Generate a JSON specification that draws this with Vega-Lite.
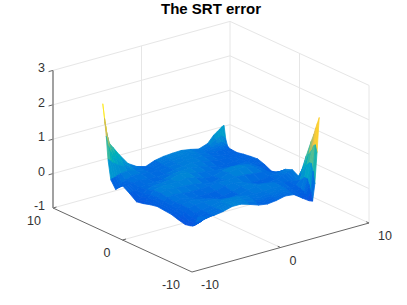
{"$schema":"https://vega.github.io/schema/vega-lite/v6.json","width":407,"height":305,"padding":0,"autosize":{"type":"none"},"background":"white","config":{"view":{"stroke":null}},
"title":{"text":"The SRT error","anchor":"middle","dx":7.5,"offset":-17,"font":"Liberation Sans","fontSize":15,"fontWeight":"bold","color":"#000000"},
"datasets":{"grid":[
{"k":2020,"x":6.85,"y":6.85,"z":0.5},{"k":2019,"x":6.85,"y":6.6,"z":0.12},{"k":2018,"x":6.85,"y":6.35,"z":-0.05},{"k":2017,"x":6.85,"y":6.1,"z":-0.1},{"k":2016,"x":6.85,"y":5.7,"z":-0.11},{"k":2015,"x":6.85,"y":5,"z":-0.12},{"k":2014,"x":6.85,"y":4,"z":-0.08},{"k":2013,"x":6.85,"y":3,"z":-0.05},{"k":2012,"x":6.85,"y":2,"z":-0.03},{"k":2011,"x":6.85,"y":1,"z":-0.1},{"k":2010,"x":6.85,"y":0,"z":-0.2},{"k":2009,"x":6.85,"y":-1,"z":-0.15},{"k":2008,"x":6.85,"y":-2,"z":0.04},{"k":2007,"x":6.85,"y":-3,"z":0.12},{"k":2006,"x":6.85,"y":-4,"z":0},{"k":2005,"x":6.85,"y":-5,"z":0.72},{"k":2004,"x":6.85,"y":-5.7,"z":1.2},{"k":2003,"x":6.85,"y":-6.1,"z":1.45},{"k":2002,"x":6.85,"y":-6.35,"z":1.65},{"k":2001,"x":6.85,"y":-6.6,"z":1.82},{"k":2000,"x":6.85,"y":-6.85,"z":2.0},
{"k":1920,"x":6.6,"y":6.85,"z":0.47},{"k":1919,"x":6.6,"y":6.6,"z":0.2},{"k":1918,"x":6.6,"y":6.35,"z":0},{"k":1917,"x":6.6,"y":6.1,"z":-0.06},{"k":1916,"x":6.6,"y":5.7,"z":-0.09},{"k":1915,"x":6.6,"y":5,"z":-0.11},{"k":1914,"x":6.6,"y":4,"z":-0.08},{"k":1913,"x":6.6,"y":3,"z":-0.05},{"k":1912,"x":6.6,"y":2,"z":-0.04},{"k":1911,"x":6.6,"y":1,"z":-0.1},{"k":1910,"x":6.6,"y":0,"z":-0.18},{"k":1909,"x":6.6,"y":-1,"z":-0.13},{"k":1908,"x":6.6,"y":-2,"z":0.03},{"k":1907,"x":6.6,"y":-3,"z":0.1},{"k":1906,"x":6.6,"y":-4,"z":-0.03},{"k":1905,"x":6.6,"y":-5,"z":0.45},{"k":1904,"x":6.6,"y":-5.7,"z":0.85},{"k":1903,"x":6.6,"y":-6.1,"z":1.0},{"k":1902,"x":6.6,"y":-6.35,"z":1.15},{"k":1901,"x":6.6,"y":-6.6,"z":1.2},{"k":1900,"x":6.6,"y":-6.85,"z":1.0},
{"k":1820,"x":6.35,"y":6.85,"z":0.42},{"k":1819,"x":6.35,"y":6.6,"z":0.25},{"k":1818,"x":6.35,"y":6.35,"z":0.08},{"k":1817,"x":6.35,"y":6.1,"z":-0.02},{"k":1816,"x":6.35,"y":5.7,"z":-0.07},{"k":1815,"x":6.35,"y":5,"z":-0.1},{"k":1814,"x":6.35,"y":4,"z":-0.08},{"k":1813,"x":6.35,"y":3,"z":-0.06},{"k":1812,"x":6.35,"y":2,"z":-0.05},{"k":1811,"x":6.35,"y":1,"z":-0.09},{"k":1810,"x":6.35,"y":0,"z":-0.15},{"k":1809,"x":6.35,"y":-1,"z":-0.11},{"k":1808,"x":6.35,"y":-2,"z":0.02},{"k":1807,"x":6.35,"y":-3,"z":0.08},{"k":1806,"x":6.35,"y":-4,"z":-0.05},{"k":1805,"x":6.35,"y":-5,"z":0.25},{"k":1804,"x":6.35,"y":-5.7,"z":0.55},{"k":1803,"x":6.35,"y":-6.1,"z":0.65},{"k":1802,"x":6.35,"y":-6.35,"z":0.65},{"k":1801,"x":6.35,"y":-6.6,"z":0.45},{"k":1800,"x":6.35,"y":-6.85,"z":0.1},
{"k":1720,"x":6.1,"y":6.85,"z":0.37},{"k":1719,"x":6.1,"y":6.6,"z":0.22},{"k":1718,"x":6.1,"y":6.35,"z":0.1},{"k":1717,"x":6.1,"y":6.1,"z":0.02},{"k":1716,"x":6.1,"y":5.7,"z":-0.05},{"k":1715,"x":6.1,"y":5,"z":-0.09},{"k":1714,"x":6.1,"y":4,"z":-0.08},{"k":1713,"x":6.1,"y":3,"z":-0.06},{"k":1712,"x":6.1,"y":2,"z":-0.05},{"k":1711,"x":6.1,"y":1,"z":-0.07},{"k":1710,"x":6.1,"y":0,"z":-0.11},{"k":1709,"x":6.1,"y":-1,"z":-0.09},{"k":1708,"x":6.1,"y":-2,"z":0.01},{"k":1707,"x":6.1,"y":-3,"z":0.05},{"k":1706,"x":6.1,"y":-4,"z":-0.06},{"k":1705,"x":6.1,"y":-5,"z":0.05},{"k":1704,"x":6.1,"y":-5.7,"z":0.2},{"k":1703,"x":6.1,"y":-6.1,"z":0.2},{"k":1702,"x":6.1,"y":-6.35,"z":0.05},{"k":1701,"x":6.1,"y":-6.6,"z":-0.15},{"k":1700,"x":6.1,"y":-6.85,"z":-0.38},
{"k":1620,"x":5.7,"y":6.85,"z":0.3},{"k":1619,"x":5.7,"y":6.6,"z":0.18},{"k":1618,"x":5.7,"y":6.35,"z":0.09},{"k":1617,"x":5.7,"y":6.1,"z":0.03},{"k":1616,"x":5.7,"y":5.7,"z":-0.03},{"k":1615,"x":5.7,"y":5,"z":-0.08},{"k":1614,"x":5.7,"y":4,"z":-0.07},{"k":1613,"x":5.7,"y":3,"z":-0.05},{"k":1612,"x":5.7,"y":2,"z":-0.04},{"k":1611,"x":5.7,"y":1,"z":-0.03},{"k":1610,"x":5.7,"y":0,"z":-0.03},{"k":1609,"x":5.7,"y":-1,"z":-0.05},{"k":1608,"x":5.7,"y":-2,"z":-0.01},{"k":1607,"x":5.7,"y":-3,"z":0.02},{"k":1606,"x":5.7,"y":-4,"z":-0.05},{"k":1605,"x":5.7,"y":-5,"z":-0.07},{"k":1604,"x":5.7,"y":-5.7,"z":-0.1},{"k":1603,"x":5.7,"y":-6.1,"z":-0.15},{"k":1602,"x":5.7,"y":-6.35,"z":-0.22},{"k":1601,"x":5.7,"y":-6.6,"z":-0.3},{"k":1600,"x":5.7,"y":-6.85,"z":-0.34},
{"k":1520,"x":5,"y":6.85,"z":0.1},{"k":1519,"x":5,"y":6.6,"z":0.07},{"k":1518,"x":5,"y":6.35,"z":0.03},{"k":1517,"x":5,"y":6.1,"z":0},{"k":1516,"x":5,"y":5.7,"z":-0.03},{"k":1515,"x":5,"y":5,"z":-0.06},{"k":1514,"x":5,"y":4,"z":-0.05},{"k":1513,"x":5,"y":3,"z":-0.05},{"k":1512,"x":5,"y":2,"z":-0.03},{"k":1511,"x":5,"y":1,"z":0.03},{"k":1510,"x":5,"y":0,"z":0.03},{"k":1509,"x":5,"y":-1,"z":0},{"k":1508,"x":5,"y":-2,"z":-0.03},{"k":1507,"x":5,"y":-3,"z":-0.02},{"k":1506,"x":5,"y":-4,"z":-0.02},{"k":1505,"x":5,"y":-5,"z":-0.1},{"k":1504,"x":5,"y":-5.7,"z":-0.12},{"k":1503,"x":5,"y":-6.1,"z":-0.15},{"k":1502,"x":5,"y":-6.35,"z":-0.18},{"k":1501,"x":5,"y":-6.6,"z":-0.2},{"k":1500,"x":5,"y":-6.85,"z":-0.22},
{"k":1420,"x":4,"y":6.85,"z":0.01},{"k":1419,"x":4,"y":6.6,"z":0.01},{"k":1418,"x":4,"y":6.35,"z":0},{"k":1417,"x":4,"y":6.1,"z":0},{"k":1416,"x":4,"y":5.7,"z":-0.01},{"k":1415,"x":4,"y":5,"z":-0.02},{"k":1414,"x":4,"y":4,"z":-0.04},{"k":1413,"x":4,"y":3,"z":-0.08},{"k":1412,"x":4,"y":2,"z":-0.06},{"k":1411,"x":4,"y":1,"z":0.08},{"k":1410,"x":4,"y":0,"z":0.12},{"k":1409,"x":4,"y":-1,"z":0.02},{"k":1408,"x":4,"y":-2,"z":-0.08},{"k":1407,"x":4,"y":-3,"z":-0.06},{"k":1406,"x":4,"y":-4,"z":0.04},{"k":1405,"x":4,"y":-5,"z":0.03},{"k":1404,"x":4,"y":-5.7,"z":0.02},{"k":1403,"x":4,"y":-6.1,"z":0},{"k":1402,"x":4,"y":-6.35,"z":-0.02},{"k":1401,"x":4,"y":-6.6,"z":-0.03},{"k":1400,"x":4,"y":-6.85,"z":-0.04},
{"k":1320,"x":3,"y":6.85,"z":0.07},{"k":1319,"x":3,"y":6.6,"z":0.07},{"k":1318,"x":3,"y":6.35,"z":0.06},{"k":1317,"x":3,"y":6.1,"z":0.06},{"k":1316,"x":3,"y":5.7,"z":0.05},{"k":1315,"x":3,"y":5,"z":0.04},{"k":1314,"x":3,"y":4,"z":0},{"k":1313,"x":3,"y":3,"z":-0.06},{"k":1312,"x":3,"y":2,"z":-0.03},{"k":1311,"x":3,"y":1,"z":0.1},{"k":1310,"x":3,"y":0,"z":0.15},{"k":1309,"x":3,"y":-1,"z":0.06},{"k":1308,"x":3,"y":-2,"z":-0.07},{"k":1307,"x":3,"y":-3,"z":-0.03},{"k":1306,"x":3,"y":-4,"z":0.08},{"k":1305,"x":3,"y":-5,"z":0.05},{"k":1304,"x":3,"y":-5.7,"z":0.04},{"k":1303,"x":3,"y":-6.1,"z":0.02},{"k":1302,"x":3,"y":-6.35,"z":0.01},{"k":1301,"x":3,"y":-6.6,"z":0},{"k":1300,"x":3,"y":-6.85,"z":-0.01},
{"k":1220,"x":2,"y":6.85,"z":0.11},{"k":1219,"x":2,"y":6.6,"z":0.11},{"k":1218,"x":2,"y":6.35,"z":0.1},{"k":1217,"x":2,"y":6.1,"z":0.09},{"k":1216,"x":2,"y":5.7,"z":0.08},{"k":1215,"x":2,"y":5,"z":0.07},{"k":1214,"x":2,"y":4,"z":0.06},{"k":1213,"x":2,"y":3,"z":0.01},{"k":1212,"x":2,"y":2,"z":-0.03},{"k":1211,"x":2,"y":1,"z":0.05},{"k":1210,"x":2,"y":0,"z":0.1},{"k":1209,"x":2,"y":-1,"z":0.07},{"k":1208,"x":2,"y":-2,"z":0.02},{"k":1207,"x":2,"y":-3,"z":0.06},{"k":1206,"x":2,"y":-4,"z":0.08},{"k":1205,"x":2,"y":-5,"z":0.03},{"k":1204,"x":2,"y":-5.7,"z":0.02},{"k":1203,"x":2,"y":-6.1,"z":0},{"k":1202,"x":2,"y":-6.35,"z":-0.03},{"k":1201,"x":2,"y":-6.6,"z":-0.05},{"k":1200,"x":2,"y":-6.85,"z":-0.07},
{"k":1120,"x":1,"y":6.85,"z":0.1},{"k":1119,"x":1,"y":6.6,"z":0.1},{"k":1118,"x":1,"y":6.35,"z":0.09},{"k":1117,"x":1,"y":6.1,"z":0.09},{"k":1116,"x":1,"y":5.7,"z":0.08},{"k":1115,"x":1,"y":5,"z":0.07},{"k":1114,"x":1,"y":4,"z":0.08},{"k":1113,"x":1,"y":3,"z":0.07},{"k":1112,"x":1,"y":2,"z":0.02},{"k":1111,"x":1,"y":1,"z":-0.02},{"k":1110,"x":1,"y":0,"z":0},{"k":1109,"x":1,"y":-1,"z":0.05},{"k":1108,"x":1,"y":-2,"z":0.07},{"k":1107,"x":1,"y":-3,"z":0.06},{"k":1106,"x":1,"y":-4,"z":0.04},{"k":1105,"x":1,"y":-5,"z":0.02},{"k":1104,"x":1,"y":-5.7,"z":0},{"k":1103,"x":1,"y":-6.1,"z":-0.02},{"k":1102,"x":1,"y":-6.35,"z":-0.05},{"k":1101,"x":1,"y":-6.6,"z":-0.08},{"k":1100,"x":1,"y":-6.85,"z":-0.1},
{"k":1020,"x":0,"y":6.85,"z":0.08},{"k":1019,"x":0,"y":6.6,"z":0.08},{"k":1018,"x":0,"y":6.35,"z":0.07},{"k":1017,"x":0,"y":6.1,"z":0.06},{"k":1016,"x":0,"y":5.7,"z":0.05},{"k":1015,"x":0,"y":5,"z":0.04},{"k":1014,"x":0,"y":4,"z":0.07},{"k":1013,"x":0,"y":3,"z":0.1},{"k":1012,"x":0,"y":2,"z":0.05},{"k":1011,"x":0,"y":1,"z":-0.02},{"k":1010,"x":0,"y":0,"z":-0.06},{"k":1009,"x":0,"y":-1,"z":0.05},{"k":1008,"x":0,"y":-2,"z":0.05},{"k":1007,"x":0,"y":-3,"z":-0.02},{"k":1006,"x":0,"y":-4,"z":-0.02},{"k":1005,"x":0,"y":-5,"z":0.04},{"k":1004,"x":0,"y":-5.7,"z":0.03},{"k":1003,"x":0,"y":-6.1,"z":0.01},{"k":1002,"x":0,"y":-6.35,"z":-0.01},{"k":1001,"x":0,"y":-6.6,"z":-0.04},{"k":1000,"x":0,"y":-6.85,"z":-0.06},
{"k":920,"x":-1,"y":6.85,"z":0.03},{"k":919,"x":-1,"y":6.6,"z":0.03},{"k":918,"x":-1,"y":6.35,"z":0.02},{"k":917,"x":-1,"y":6.1,"z":0.02},{"k":916,"x":-1,"y":5.7,"z":0.01},{"k":915,"x":-1,"y":5,"z":0},{"k":914,"x":-1,"y":4,"z":0.03},{"k":913,"x":-1,"y":3,"z":0.09},{"k":912,"x":-1,"y":2,"z":0.13},{"k":911,"x":-1,"y":1,"z":0.08},{"k":910,"x":-1,"y":0,"z":0},{"k":909,"x":-1,"y":-1,"z":0.02},{"k":908,"x":-1,"y":-2,"z":-0.03},{"k":907,"x":-1,"y":-3,"z":-0.09},{"k":906,"x":-1,"y":-4,"z":-0.05},{"k":905,"x":-1,"y":-5,"z":0.08},{"k":904,"x":-1,"y":-5.7,"z":0.08},{"k":903,"x":-1,"y":-6.1,"z":0.07},{"k":902,"x":-1,"y":-6.35,"z":0.06},{"k":901,"x":-1,"y":-6.6,"z":0.04},{"k":900,"x":-1,"y":-6.85,"z":0.03},
{"k":820,"x":-2,"y":6.85,"z":-0.07},{"k":819,"x":-2,"y":6.6,"z":-0.07},{"k":818,"x":-2,"y":6.35,"z":-0.06},{"k":817,"x":-2,"y":6.1,"z":-0.06},{"k":816,"x":-2,"y":5.7,"z":-0.05},{"k":815,"x":-2,"y":5,"z":-0.03},{"k":814,"x":-2,"y":4,"z":-0.02},{"k":813,"x":-2,"y":3,"z":0.06},{"k":812,"x":-2,"y":2,"z":0.16},{"k":811,"x":-2,"y":1,"z":0.13},{"k":810,"x":-2,"y":0,"z":0.05},{"k":809,"x":-2,"y":-1,"z":0},{"k":808,"x":-2,"y":-2,"z":-0.05},{"k":807,"x":-2,"y":-3,"z":-0.08},{"k":806,"x":-2,"y":-4,"z":-0.02},{"k":805,"x":-2,"y":-5,"z":0.1},{"k":804,"x":-2,"y":-5.7,"z":0.11},{"k":803,"x":-2,"y":-6.1,"z":0.11},{"k":802,"x":-2,"y":-6.35,"z":0.11},{"k":801,"x":-2,"y":-6.6,"z":0.11},{"k":800,"x":-2,"y":-6.85,"z":0.11},
{"k":720,"x":-3,"y":6.85,"z":0},{"k":719,"x":-3,"y":6.6,"z":0},{"k":718,"x":-3,"y":6.35,"z":0},{"k":717,"x":-3,"y":6.1,"z":0},{"k":716,"x":-3,"y":5.7,"z":-0.01},{"k":715,"x":-3,"y":5,"z":-0.01},{"k":714,"x":-3,"y":4,"z":-0.05},{"k":713,"x":-3,"y":3,"z":-0.02},{"k":712,"x":-3,"y":2,"z":0.08},{"k":711,"x":-3,"y":1,"z":0.1},{"k":710,"x":-3,"y":0,"z":0.07},{"k":709,"x":-3,"y":-1,"z":0},{"k":708,"x":-3,"y":-2,"z":-0.05},{"k":707,"x":-3,"y":-3,"z":-0.03},{"k":706,"x":-3,"y":-4,"z":0.04},{"k":705,"x":-3,"y":-5,"z":0.08},{"k":704,"x":-3,"y":-5.7,"z":0.09},{"k":703,"x":-3,"y":-6.1,"z":0.1},{"k":702,"x":-3,"y":-6.35,"z":0.1},{"k":701,"x":-3,"y":-6.6,"z":0.11},{"k":700,"x":-3,"y":-6.85,"z":0.11},
{"k":620,"x":-4,"y":6.85,"z":0.16},{"k":619,"x":-4,"y":6.6,"z":0.13},{"k":618,"x":-4,"y":6.35,"z":0.1},{"k":617,"x":-4,"y":6.1,"z":0.07},{"k":616,"x":-4,"y":5.7,"z":0.05},{"k":615,"x":-4,"y":5,"z":0.04},{"k":614,"x":-4,"y":4,"z":-0.02},{"k":613,"x":-4,"y":3,"z":-0.03},{"k":612,"x":-4,"y":2,"z":0.04},{"k":611,"x":-4,"y":1,"z":0.09},{"k":610,"x":-4,"y":0,"z":0.09},{"k":609,"x":-4,"y":-1,"z":0.02},{"k":608,"x":-4,"y":-2,"z":-0.02},{"k":607,"x":-4,"y":-3,"z":0.02},{"k":606,"x":-4,"y":-4,"z":0.05},{"k":605,"x":-4,"y":-5,"z":0.02},{"k":604,"x":-4,"y":-5.7,"z":0.03},{"k":603,"x":-4,"y":-6.1,"z":0.03},{"k":602,"x":-4,"y":-6.35,"z":0.03},{"k":601,"x":-4,"y":-6.6,"z":0.03},{"k":600,"x":-4,"y":-6.85,"z":0.04},
{"k":520,"x":-5,"y":6.85,"z":0.49},{"k":519,"x":-5,"y":6.6,"z":0.4},{"k":518,"x":-5,"y":6.35,"z":0.3},{"k":517,"x":-5,"y":6.1,"z":0.22},{"k":516,"x":-5,"y":5.7,"z":0.12},{"k":515,"x":-5,"y":5,"z":0.05},{"k":514,"x":-5,"y":4,"z":0},{"k":513,"x":-5,"y":3,"z":-0.02},{"k":512,"x":-5,"y":2,"z":0.03},{"k":511,"x":-5,"y":1,"z":0.1},{"k":510,"x":-5,"y":0,"z":0.12},{"k":509,"x":-5,"y":-1,"z":0.06},{"k":508,"x":-5,"y":-2,"z":0.02},{"k":507,"x":-5,"y":-3,"z":0.04},{"k":506,"x":-5,"y":-4,"z":0.03},{"k":505,"x":-5,"y":-5,"z":-0.02},{"k":504,"x":-5,"y":-5.7,"z":-0.03},{"k":503,"x":-5,"y":-6.1,"z":-0.04},{"k":502,"x":-5,"y":-6.35,"z":-0.05},{"k":501,"x":-5,"y":-6.6,"z":-0.03},{"k":500,"x":-5,"y":-6.85,"z":0},
{"k":420,"x":-5.7,"y":6.85,"z":0.75},{"k":419,"x":-5.7,"y":6.6,"z":0.6},{"k":418,"x":-5.7,"y":6.35,"z":0.45},{"k":417,"x":-5.7,"y":6.1,"z":0.3},{"k":416,"x":-5.7,"y":5.7,"z":0.1},{"k":415,"x":-5.7,"y":5,"z":-0.02},{"k":414,"x":-5.7,"y":4,"z":-0.02},{"k":413,"x":-5.7,"y":3,"z":-0.06},{"k":412,"x":-5.7,"y":2,"z":-0.03},{"k":411,"x":-5.7,"y":1,"z":0.04},{"k":410,"x":-5.7,"y":0,"z":0.06},{"k":409,"x":-5.7,"y":-1,"z":0.02},{"k":408,"x":-5.7,"y":-2,"z":-0.02},{"k":407,"x":-5.7,"y":-3,"z":0},{"k":406,"x":-5.7,"y":-4,"z":-0.02},{"k":405,"x":-5.7,"y":-5,"z":-0.06},{"k":404,"x":-5.7,"y":-5.7,"z":-0.08},{"k":403,"x":-5.7,"y":-6.1,"z":-0.1},{"k":402,"x":-5.7,"y":-6.35,"z":-0.1},{"k":401,"x":-5.7,"y":-6.6,"z":-0.06},{"k":400,"x":-5.7,"y":-6.85,"z":0.02},
{"k":320,"x":-6.1,"y":6.85,"z":0.9},{"k":319,"x":-6.1,"y":6.6,"z":0.75},{"k":318,"x":-6.1,"y":6.35,"z":0.58},{"k":317,"x":-6.1,"y":6.1,"z":0.38},{"k":316,"x":-6.1,"y":5.7,"z":0.07},{"k":315,"x":-6.1,"y":5,"z":-0.08},{"k":314,"x":-6.1,"y":4,"z":-0.02},{"k":313,"x":-6.1,"y":3,"z":-0.1},{"k":312,"x":-6.1,"y":2,"z":-0.12},{"k":311,"x":-6.1,"y":1,"z":-0.06},{"k":310,"x":-6.1,"y":0,"z":-0.04},{"k":309,"x":-6.1,"y":-1,"z":-0.06},{"k":308,"x":-6.1,"y":-2,"z":-0.08},{"k":307,"x":-6.1,"y":-3,"z":-0.08},{"k":306,"x":-6.1,"y":-4,"z":-0.1},{"k":305,"x":-6.1,"y":-5,"z":-0.16},{"k":304,"x":-6.1,"y":-5.7,"z":-0.18},{"k":303,"x":-6.1,"y":-6.1,"z":-0.18},{"k":302,"x":-6.1,"y":-6.35,"z":-0.15},{"k":301,"x":-6.1,"y":-6.6,"z":-0.07},{"k":300,"x":-6.1,"y":-6.85,"z":0.03},
{"k":220,"x":-6.35,"y":6.85,"z":1.15},{"k":219,"x":-6.35,"y":6.6,"z":0.95},{"k":218,"x":-6.35,"y":6.35,"z":0.72},{"k":217,"x":-6.35,"y":6.1,"z":0.42},{"k":216,"x":-6.35,"y":5.7,"z":0.04},{"k":215,"x":-6.35,"y":5,"z":-0.13},{"k":214,"x":-6.35,"y":4,"z":-0.02},{"k":213,"x":-6.35,"y":3,"z":-0.12},{"k":212,"x":-6.35,"y":2,"z":-0.2},{"k":211,"x":-6.35,"y":1,"z":-0.14},{"k":210,"x":-6.35,"y":0,"z":-0.1},{"k":209,"x":-6.35,"y":-1,"z":-0.11},{"k":208,"x":-6.35,"y":-2,"z":-0.12},{"k":207,"x":-6.35,"y":-3,"z":-0.13},{"k":206,"x":-6.35,"y":-4,"z":-0.17},{"k":205,"x":-6.35,"y":-5,"z":-0.24},{"k":204,"x":-6.35,"y":-5.7,"z":-0.23},{"k":203,"x":-6.35,"y":-6.1,"z":-0.22},{"k":202,"x":-6.35,"y":-6.35,"z":-0.17},{"k":201,"x":-6.35,"y":-6.6,"z":-0.08},{"k":200,"x":-6.35,"y":-6.85,"z":0.05},
{"k":120,"x":-6.6,"y":6.85,"z":1.55},{"k":119,"x":-6.6,"y":6.6,"z":1.25},{"k":118,"x":-6.6,"y":6.35,"z":0.9},{"k":117,"x":-6.6,"y":6.1,"z":0.5},{"k":116,"x":-6.6,"y":5.7,"z":0.02},{"k":115,"x":-6.6,"y":5,"z":-0.18},{"k":114,"x":-6.6,"y":4,"z":-0.02},{"k":113,"x":-6.6,"y":3,"z":-0.14},{"k":112,"x":-6.6,"y":2,"z":-0.26},{"k":111,"x":-6.6,"y":1,"z":-0.2},{"k":110,"x":-6.6,"y":0,"z":-0.16},{"k":109,"x":-6.6,"y":-1,"z":-0.14},{"k":108,"x":-6.6,"y":-2,"z":-0.15},{"k":107,"x":-6.6,"y":-3,"z":-0.17},{"k":106,"x":-6.6,"y":-4,"z":-0.22},{"k":105,"x":-6.6,"y":-5,"z":-0.28},{"k":104,"x":-6.6,"y":-5.7,"z":-0.26},{"k":103,"x":-6.6,"y":-6.1,"z":-0.24},{"k":102,"x":-6.6,"y":-6.35,"z":-0.18},{"k":101,"x":-6.6,"y":-6.6,"z":-0.08},{"k":100,"x":-6.6,"y":-6.85,"z":0.07},
{"k":20,"x":-6.85,"y":6.85,"z":2.1},{"k":19,"x":-6.85,"y":6.6,"z":1.7},{"k":18,"x":-6.85,"y":6.35,"z":1.2},{"k":17,"x":-6.85,"y":6.1,"z":0.55},{"k":16,"x":-6.85,"y":5.7,"z":0},{"k":15,"x":-6.85,"y":5,"z":-0.22},{"k":14,"x":-6.85,"y":4,"z":-0.02},{"k":13,"x":-6.85,"y":3,"z":-0.15},{"k":12,"x":-6.85,"y":2,"z":-0.3},{"k":11,"x":-6.85,"y":1,"z":-0.26},{"k":10,"x":-6.85,"y":0,"z":-0.2},{"k":9,"x":-6.85,"y":-1,"z":-0.16},{"k":8,"x":-6.85,"y":-2,"z":-0.18},{"k":7,"x":-6.85,"y":-3,"z":-0.2},{"k":6,"x":-6.85,"y":-4,"z":-0.26},{"k":5,"x":-6.85,"y":-5,"z":-0.31},{"k":4,"x":-6.85,"y":-5.7,"z":-0.28},{"k":3,"x":-6.85,"y":-6.1,"z":-0.25},{"k":2,"x":-6.85,"y":-6.35,"z":-0.18},{"k":1,"x":-6.85,"y":-6.6,"z":-0.08},{"k":0,"x":-6.85,"y":-6.85,"z":0.08}
],
"lines":[
{"part":"grid","x":-10,"y":10,"z":0,"x2":10,"y2":10,"z2":0},{"part":"grid","x":-10,"y":10,"z":1,"x2":10,"y2":10,"z2":1},{"part":"grid","x":-10,"y":10,"z":2,"x2":10,"y2":10,"z2":2},{"part":"grid","x":-10,"y":10,"z":3,"x2":10,"y2":10,"z2":3},{"part":"grid","x":-10,"y":10,"z":-1,"x2":10,"y2":10,"z2":-1},
{"part":"grid","x":10,"y":10,"z":0,"x2":10,"y2":-10,"z2":0},{"part":"grid","x":10,"y":10,"z":1,"x2":10,"y2":-10,"z2":1},{"part":"grid","x":10,"y":10,"z":2,"x2":10,"y2":-10,"z2":2},{"part":"grid","x":10,"y":10,"z":3,"x2":10,"y2":-10,"z2":3},{"part":"grid","x":10,"y":10,"z":-1,"x2":10,"y2":-10,"z2":-1},
{"part":"grid","x":0,"y":10,"z":-1,"x2":0,"y2":10,"z2":3},{"part":"grid","x":10,"y":10,"z":-1,"x2":10,"y2":10,"z2":3},{"part":"grid","x":10,"y":0,"z":-1,"x2":10,"y2":0,"z2":3},{"part":"grid","x":10,"y":-10,"z":-1,"x2":10,"y2":-10,"z2":3},
{"part":"grid","x":0,"y":-10,"z":-1,"x2":0,"y2":10,"z2":-1},{"part":"grid","x":-10,"y":0,"z":-1,"x2":10,"y2":0,"z2":-1},
{"part":"axis","x":-10,"y":-10,"z":-1,"x2":10,"y2":-10,"z2":-1},{"part":"axis","x":-10,"y":-10,"z":-1,"x2":-10,"y2":10,"z2":-1},
{"part":"axis","x":0,"y":-10,"z":-1,"x2":0,"y2":-9.6,"z2":-1},{"part":"axis","x":10,"y":-10,"z":-1,"x2":10,"y2":-9.6,"z2":-1},{"part":"axis","x":-10,"y":0,"z":-1,"x2":-9.6,"y2":0,"z2":-1},{"part":"axis","x":-10,"y":10,"z":-1,"x2":-9.6,"y2":10,"z2":-1},
{"part":"axis","x":-10.5,"y":10,"z":3,"x2":-10,"y2":10,"z2":3},{"part":"axis","x":-10.5,"y":10,"z":2,"x2":-10,"y2":10,"z2":2},{"part":"axis","x":-10.5,"y":10,"z":1,"x2":-10,"y2":10,"z2":1},{"part":"axis","x":-10.5,"y":10,"z":0,"x2":-10,"y2":10,"z2":0},
{"part":"zaxis","x":-10,"y":10,"z":-1,"x2":-10,"y2":10,"z2":3}
],
"labels":[
{"side":"z","t":"3","x":-10,"y":10,"z":3},{"side":"z","t":"2","x":-10,"y":10,"z":2},{"side":"z","t":"1","x":-10,"y":10,"z":1},{"side":"z","t":"0","x":-10,"y":10,"z":0},{"side":"z","t":"-1","x":-10,"y":10,"z":-1},
{"side":"y","t":"10","x":-10,"y":10,"z":-1},{"side":"y","t":"0","x":-10,"y":0,"z":-1},{"side":"y","t":"-10","x":-10,"y":-10,"z":-1},
{"side":"x","t":"-10","x":-10,"y":-10,"z":-1},{"side":"x","t":"0","x":0,"y":-10,"z":-1},{"side":"x","t":"10","x":10,"y":-10,"z":-1}
]},
"layer":[
{"data":{"name":"lines"},"transform":[{"filter":"datum.part=='grid'"},{"calculate":"192+8.85*(datum.x+10)-6.95*(datum.y+10)","as":"sx"},{"calculate":"272-2.45*(datum.x+10)-3.2*(datum.y+10)-34.4*(datum.z+1)","as":"sy"},{"calculate":"192+8.85*(datum.x2+10)-6.95*(datum.y2+10)","as":"sx2"},{"calculate":"272-2.45*(datum.x2+10)-3.2*(datum.y2+10)-34.4*(datum.z2+1)","as":"sy2"}],
"mark":{"type":"rule","stroke":"#e6e6e6","strokeWidth":1},
"encoding":{"x":{"field":"sx","type":"quantitative","scale":{"domain":[0,407]},"axis":null},"y":{"field":"sy","type":"quantitative","scale":{"domain":[305,0]},"axis":null},"x2":{"field":"sx2"},"y2":{"field":"sy2"}}},
{"data":{"name":"grid"},"transform":[
{"calculate":"datum.k+100","as":"k10"},{"calculate":"datum.k+1","as":"k01"},{"calculate":"datum.k+101","as":"k11"},
{"lookup":"k10","from":{"data":{"name":"grid"},"key":"k","fields":["x","y","z"]},"as":["x10","y10","z10"]},
{"lookup":"k01","from":{"data":{"name":"grid"},"key":"k","fields":["x","y","z"]},"as":["x01","y01","z01"]},
{"lookup":"k11","from":{"data":{"name":"grid"},"key":"k","fields":["x","y","z"]},"as":["x11","y11","z11"]},
{"filter":"isValid(datum.z11)&&isValid(datum.z10)&&isValid(datum.z01)"},
{"calculate":"(datum.z+datum.z10+datum.z01+datum.z11)/4","as":"m"},
{"calculate":"[0,1,2,3]","as":"c"},{"flatten":["c"]},
{"calculate":"[datum.x,datum.x10,datum.x11,datum.x01][datum.c]","as":"qx"},
{"calculate":"[datum.y,datum.y10,datum.y11,datum.y01][datum.c]","as":"qy"},
{"calculate":"[datum.z,datum.z10,datum.z11,datum.z01][datum.c]","as":"qz"},
{"calculate":"192+8.85*(datum.qx+10)-6.95*(datum.qy+10)","as":"sx"},
{"calculate":"272-2.45*(datum.qx+10)-3.2*(datum.qy+10)-34.4*(datum.qz+1)","as":"sy"}],
"mark":{"type":"line","strokeWidth":0.8,"strokeJoin":"round","interpolate":"linear-closed"},
"encoding":{"x":{"field":"sx","type":"quantitative","scale":{"domain":[0,407]},"axis":null},"y":{"field":"sy","type":"quantitative","scale":{"domain":[305,0]},"axis":null},"detail":{"field":"k","type":"nominal"},"order":{"field":"c","type":"quantitative"},
"fill":{"field":"m","type":"quantitative","legend":null,"scale":{"domain":[-0.42,-0.3,-0.05,0.15,0.45,0.8,1.05,1.3,1.5,1.75],"range":["#352a87","#0b55e0","#0066e0","#0a8ad4","#08a8c4","#38b99e","#92bf73","#d9ba56","#fcce2e","#f9fb0e"]}},
"stroke":{"field":"m","type":"quantitative","legend":null,"scale":{"domain":[-0.42,-0.3,-0.05,0.15,0.45,0.8,1.05,1.3,1.5,1.75],"range":["#352a87","#0b55e0","#0066e0","#0a8ad4","#08a8c4","#38b99e","#92bf73","#d9ba56","#fcce2e","#f9fb0e"]}}}},
{"data":{"name":"lines"},"transform":[{"filter":"datum.part=='axis'"},{"calculate":"192+8.85*(datum.x+10)-6.95*(datum.y+10)","as":"sx"},{"calculate":"272-2.45*(datum.x+10)-3.2*(datum.y+10)-34.4*(datum.z+1)","as":"sy"},{"calculate":"192+8.85*(datum.x2+10)-6.95*(datum.y2+10)","as":"sx2"},{"calculate":"272-2.45*(datum.x2+10)-3.2*(datum.y2+10)-34.4*(datum.z2+1)","as":"sy2"}],
"mark":{"type":"rule","stroke":"#666666","strokeWidth":1},
"encoding":{"x":{"field":"sx","type":"quantitative","scale":{"domain":[0,407]},"axis":null},"y":{"field":"sy","type":"quantitative","scale":{"domain":[305,0]},"axis":null},"x2":{"field":"sx2"},"y2":{"field":"sy2"}}},
{"data":{"name":"lines"},"transform":[{"filter":"datum.part=='zaxis'"},{"calculate":"192+8.85*(datum.x+10)-6.95*(datum.y+10)","as":"sx"},{"calculate":"272-2.45*(datum.x+10)-3.2*(datum.y+10)-34.4*(datum.z+1)","as":"sy"},{"calculate":"192+8.85*(datum.x2+10)-6.95*(datum.y2+10)","as":"sx2"},{"calculate":"272-2.45*(datum.x2+10)-3.2*(datum.y2+10)-34.4*(datum.z2+1)","as":"sy2"}],
"mark":{"type":"rule","stroke":"#8a8a8a","strokeWidth":1.6},
"encoding":{"x":{"field":"sx","type":"quantitative","scale":{"domain":[0,407]},"axis":null},"y":{"field":"sy","type":"quantitative","scale":{"domain":[305,0]},"axis":null},"x2":{"field":"sx2"},"y2":{"field":"sy2"}}},
{"data":{"name":"labels"},"transform":[{"filter":"datum.side=='z'"},{"calculate":"192+8.85*(datum.x+10)-6.95*(datum.y+10)","as":"sx"},{"calculate":"272-2.45*(datum.x+10)-3.2*(datum.y+10)-34.4*(datum.z+1)","as":"sy"}],
"mark":{"type":"text","align":"right","baseline":"middle","dx":-8,"dy":-2,"font":"Liberation Sans","fontSize":12.5,"fill":"#333333"},
"encoding":{"x":{"field":"sx","type":"quantitative","scale":{"domain":[0,407]},"axis":null},"y":{"field":"sy","type":"quantitative","scale":{"domain":[305,0]},"axis":null},"text":{"field":"t"}}},
{"data":{"name":"labels"},"transform":[{"filter":"datum.side=='y'"},{"calculate":"192+8.85*(datum.x+10)-6.95*(datum.y+10)","as":"sx"},{"calculate":"272-2.45*(datum.x+10)-3.2*(datum.y+10)-34.4*(datum.z+1)","as":"sy"}],
"mark":{"type":"text","align":"right","baseline":"middle","dx":-12,"dy":13,"font":"Liberation Sans","fontSize":12.5,"fill":"#333333"},
"encoding":{"x":{"field":"sx","type":"quantitative","scale":{"domain":[0,407]},"axis":null},"y":{"field":"sy","type":"quantitative","scale":{"domain":[305,0]},"axis":null},"text":{"field":"t"}}},
{"data":{"name":"labels"},"transform":[{"filter":"datum.side=='x'"},{"calculate":"192+8.85*(datum.x+10)-6.95*(datum.y+10)","as":"sx"},{"calculate":"272-2.45*(datum.x+10)-3.2*(datum.y+10)-34.4*(datum.z+1)","as":"sy"}],
"mark":{"type":"text","align":"left","baseline":"middle","dx":9,"dy":13,"font":"Liberation Sans","fontSize":12.5,"fill":"#333333"},
"encoding":{"x":{"field":"sx","type":"quantitative","scale":{"domain":[0,407]},"axis":null},"y":{"field":"sy","type":"quantitative","scale":{"domain":[305,0]},"axis":null},"text":{"field":"t"}}}
]}
